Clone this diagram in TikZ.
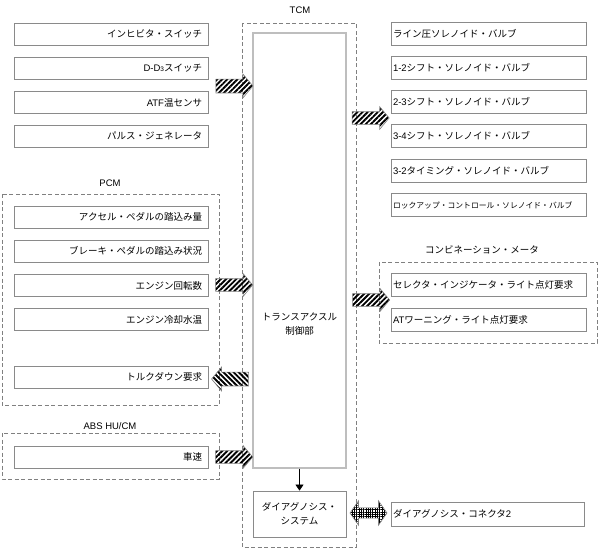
\documentclass[tikz,border=0pt]{standalone}
\usepackage{fontspec}
\setmainfont{Noto Sans CJK JP}
\newfontfamily\lat{Liberation Sans}
\usetikzlibrary{shapes.arrows,patterns.meta,arrows.meta}
\definecolor{boxgray}{HTML}{8A8A8A}
\definecolor{dashgray}{HTML}{808080}
\definecolor{innergray}{HTML}{BEBEBE}
\newcommand\fsz{\fontsize{9.5}{11}\selectfont}
\newcommand\ssz{\fontsize{7.8}{9}\selectfont}
\tikzset{
  lbox/.style={draw=boxgray, line width=0.8pt, fill=white, minimum width=194pt, minimum height=22pt,
    text width=182pt, align=right, inner xsep=6pt, inner ysep=0pt, font=\fsz},
  rbox/.style={draw=boxgray, line width=0.8pt, fill=white, minimum width=195pt, minimum height=23pt,
    text width=191pt, align=left, inner xsep=2pt, inner ysep=0pt, font=\fsz},
  dbox/.style={draw=dashgray, dash pattern=on 4pt off 2.5pt, line width=0.7pt},
  grp/.style={font=\lat\fontsize{9.5}{11}\selectfont},
  hatarrow/.style={single arrow, draw=gray, line width=0.6pt,
    pattern={Lines[angle=45,distance=3.6pt,line width=1.9pt]},
    inner xsep=0pt, inner ysep=6pt, minimum height=37pt, single arrow head extend=5pt,
    single arrow tip angle=100},
  hatarrowl/.style={hatarrow, shape border rotate=180,
    pattern={Lines[angle=-45,distance=3.6pt,line width=1.9pt]}},
  gridarrow/.style={double arrow, draw=gray, line width=0.6pt,
    pattern={Hatch[angle=0,distance=2.3pt,line width=0.35pt]},
    inner xsep=0pt, inner ysep=5pt, minimum height=37pt, double arrow head extend=7pt,
    double arrow tip angle=110}
}
\begin{document}
\begin{tikzpicture}[x=1pt,y=-1pt]
\useasboundingbox (0,0) rectangle (599,551);
% TCM group
\node[grp] (tcmlbl) at (300,10) {TCM};
\draw[dbox] (242,23) rectangle (356,547);
\node[draw=innergray, line width=1.3pt, minimum width=93pt, minimum height=435pt, inner sep=0pt] (ctrl) at (299.5,250.5) {};
\node[font=\fsz, align=center] (ctrltxt) at (299.5,324.5) {トランスアクスル\\[3pt]制御部};
\node[draw=boxgray, line width=0.8pt, minimum width=93pt, minimum height=46pt, inner sep=0pt, font=\fsz, align=center] (diag) at (299.5,514) {ダイアグノシス・\\[3pt]システム};
\draw[line width=0.6pt, -{Triangle[width=8pt,length=6pt]}] (ctrl.south) -- (diag.north);

% left inputs
\node[lbox] (inh) at (111,34) {インヒビタ・スイッチ};
\node[lbox] (dd3) at (111,68) {{\lat D-D{\fontsize{6.5}{7}\selectfont 3}}スイッチ};
\node[lbox] (atf) at (111,102.5) {{\lat ATF}温センサ};
\node[lbox] (pulse) at (111,136) {パルス・ジェネレータ};
\node[hatarrow] (a1) at (231.5,86) {};

% PCM
\node[grp] (pcmlbl) at (110,183) {PCM};
\draw[dbox] (2,194) rectangle (219,405);
\node[lbox] (acc) at (111,217) {アクセル・ペダルの踏込み量};
\node[lbox] (brk) at (111,251) {ブレーキ・ペダルの踏込み状況};
\node[lbox] (rpm) at (111,285.5) {エンジン回転数};
\node[lbox] (cool) at (111,319.5) {エンジン冷却水温};
\node[lbox] (tq) at (111,377) {トルクダウン要求};
\node[hatarrow] (a2) at (231.5,285) {};
\node[hatarrowl] (a3) at (233,379) {};

% ABS
\node[grp] (abslbl) at (110,426) {ABS HU/CM};
\draw[dbox] (2,433) rectangle (219,479);
\node[lbox] (spd) at (111,457) {車速};
\node[hatarrow] (a4) at (231.5,457) {};

% right outputs
\node[rbox] (line) at (488.5,33.5) {ライン圧ソレノイド・バルブ};
\node[rbox] (s12) at (488.5,68) {{\lat 1-2}シフト・ソレノイド・バルブ};
\node[rbox] (s23) at (488.5,102) {{\lat 2-3}シフト・ソレノイド・バルブ};
\node[rbox] (s34) at (488.5,136) {{\lat 3-4}シフト・ソレノイド・バルブ};
\node[rbox] (t32) at (488.5,170.5) {{\lat 3-2}タイミング・ソレノイド・バルブ};
\node[rbox, font=\ssz] (lock) at (488.5,205) {ロックアップ・コントロール・ソレノイド・バルブ};
\node[hatarrow] (a5) at (368,118) {};

% combination meter
\node[font=\fsz] (cmlbl) at (482,250) {コンビネーション・メータ};
\draw[dbox] (379,262) rectangle (597,343);
\node[rbox] (sel) at (488.5,284.5) {セレクタ・インジケータ・ライト点灯要求};
\node[rbox] (atw) at (488.5,319.5) {{\lat AT}ワーニング・ライト点灯要求};
\node[hatarrow] (a6) at (368.5,300) {};

% diagnosis connector
\node[gridarrow] (a7) at (368.5,513) {};
\node[rbox, minimum width=193pt, text width=189pt, minimum height=24pt] (conn) at (487.5,514) {ダイアグノシス・コネクタ{\lat 2}};
\end{tikzpicture}
\end{document}
